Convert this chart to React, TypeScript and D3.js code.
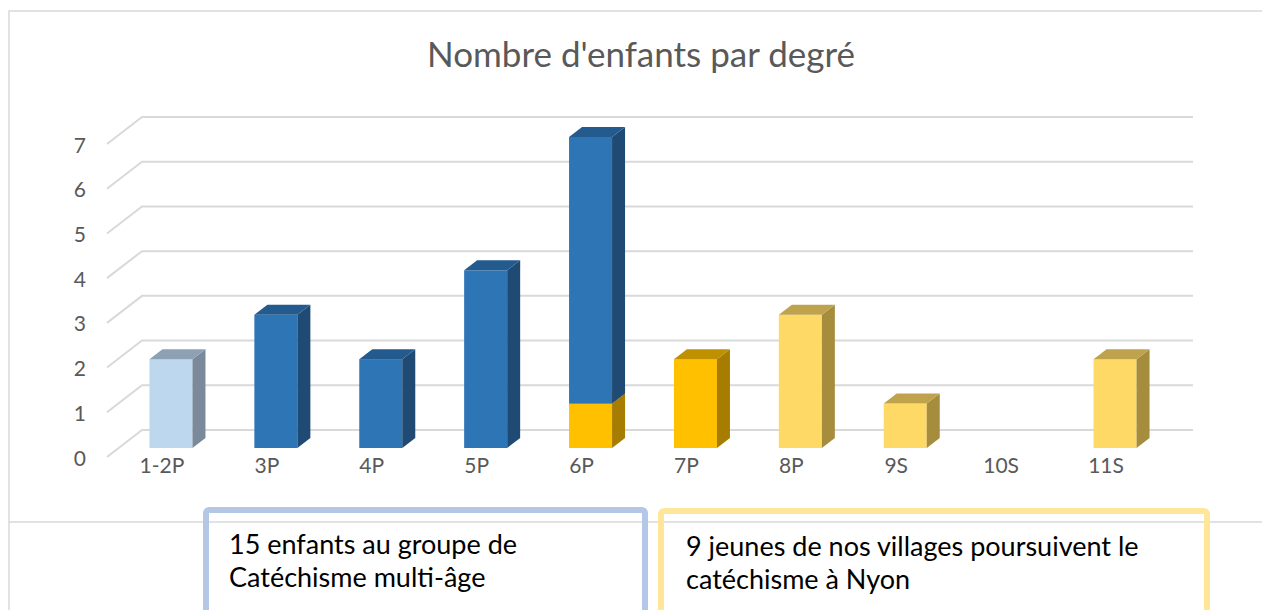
import { useMemo } from 'react';
import * as d3 from 'd3';

const categories = ['1-2P', '3P', '4P', '5P', '6P', '7P', '8P', '9S', '10S', '11S'];
// stacked from the bottom up
const seriesKeys = ['gold', 'lightBlue', 'blue', 'yellow'];
const goldValues = [0, 0, 0, 0, 1, 2, 0, 0, 0, 0];
const lightBlueValues = [2, 0, 0, 0, 0, 0, 0, 0, 0, 0];
const blueValues = [0, 3, 2, 4, 6, 0, 0, 0, 0, 0];
const yellowValues = [0, 0, 0, 0, 0, 0, 3, 1, 0, 2];
const yTicks = [0, 1, 2, 3, 4, 5, 6, 7];

const title = "Nombre d'enfants par degré";
const noteLeft = ['15 enfants au groupe de', 'Catéchisme multi-âge'];
const noteRight = ['9 jeunes de nos villages poursuivent le', 'catéchisme à Nyon'];

const faces: Record<string, { front: string; side: string; top: string }> = {
  gold: { front: '#FFC000', side: '#A67D00', top: '#BF9000' },
  lightBlue: { front: '#BDD7EE', side: '#7A8A9A', top: '#8EA1B4' },
  blue: { front: '#2E75B6', side: '#1F4A73', top: '#245B8E' },
  yellow: { front: '#FFD966', side: '#A68D3E', top: '#BFA34C' },
};

const W = 1262;
const H = 610;
const FONT = 'Lato, "Open Sans", sans-serif';
// perspective offsets
const depth = { dx: 13, dy: -10 };
const wallShift = { dx: -35, dy: 27 };

export default function App() {
  const { bars, x, yBar, yWall } = useMemo(() => {
    const table = categories.map((c, i) => ({
      cat: c,
      gold: goldValues[i],
      lightBlue: lightBlueValues[i],
      blue: blueValues[i],
      yellow: yellowValues[i],
    }));
    const stacked = d3.stack<any>().keys(seriesKeys)(table);
    const x = d3.scaleBand().domain(categories).range([118, 1168]).paddingInner(0.59).paddingOuter(0.3);
    const yBar = d3.scaleLinear().domain([0, 7]).range([448, 137]);
    const yWall = d3.scaleLinear().domain([0, 7]).range([430, 117]);
    const bars: { key: string; cat: string; y0: number; y1: number }[] = [];
    stacked.forEach((s) => {
      s.forEach((d) => {
        if (d[1] - d[0] > 0) bars.push({ key: s.key, cat: d.data.cat, y0: d[0], y1: d[1] });
      });
    });
    // draw each column from bottom to top
    bars.sort((a, b) => categories.indexOf(a.cat) - categories.indexOf(b.cat) || a.y0 - b.y0);
    return { bars, x, yBar, yWall };
  }, []);

  const wallLeft = 142;
  const wallRight = 1193;
  const bw = x.bandwidth();

  return (
    <svg width={W} height={H} style={{ position: 'absolute', left: 0, top: 0, background: '#fff' }}>
      {/* chart frame */}
      <path d={`M9,${H} V11 H${W}`} fill="none" stroke="#D9D9D9" strokeWidth={1.5} />
      <line x1={9} x2={W} y1={522} y2={522} stroke="#D9D9D9" strokeWidth={1.5} />

      <text x={641} y={67} textAnchor="middle" fontFamily={FONT} fontSize={35} fill="#595959">
        {title}
      </text>

      {/* gridlines: floor diagonal + back wall */}
      {yTicks.map((t) => (
        <g key={t}>
          <path
            d={`M${wallLeft + wallShift.dx},${yWall(t) + wallShift.dy} L${wallLeft},${yWall(t)} H${wallRight}`}
            fill="none"
            stroke="#D9D9D9"
            strokeWidth={2}
          />
          <text
            x={86}
            y={yWall(t) + wallShift.dy}
            textAnchor="end"
            dominantBaseline="central"
            fontFamily={FONT}
            fontSize={21}
            fill="#595959"
          >
            {t}
          </text>
        </g>
      ))}

      {bars.map((b, i) => {
        const x0 = x(b.cat)!;
        const x1 = x0 + bw;
        const yb = yBar(b.y0);
        const yt = yBar(b.y1);
        const f = faces[b.key];
        return (
          <g key={i}>
            <rect x={x0} y={yt} width={bw} height={yb - yt} fill={f.front} />
            <polygon
              points={`${x1},${yb} ${x1 + depth.dx},${yb + depth.dy} ${x1 + depth.dx},${yt + depth.dy} ${x1},${yt}`}
              fill={f.side}
            />
            <polygon
              points={`${x0},${yt} ${x0 + depth.dx},${yt + depth.dy} ${x1 + depth.dx},${yt + depth.dy} ${x1},${yt}`}
              fill={f.top}
            />
          </g>
        );
      })}

      {categories.map((c) => (
        <text
          key={c}
          x={x(c)! + bw / 2 - 9}
          y={464}
          textAnchor="middle"
          dominantBaseline="central"
          fontFamily={FONT}
          fontSize={21}
          fill="#595959"
        >
          {c}
        </text>
      ))}

      {/* annotation boxes */}
      <rect x={206} y={510} width={439} height={130} rx={3} fill="none" stroke="#B4C7E7" strokeWidth={6} />
      <rect x={661} y={511} width={546} height={130} rx={3} fill="none" stroke="#FFE699" strokeWidth={6} />
      {noteLeft.map((s, i) => (
        <text key={s} x={229} y={554 + i * 33} fontFamily={FONT} fontSize={27} fill="#000">
          {s}
        </text>
      ))}
      {noteRight.map((s, i) => (
        <text key={s} x={686} y={556 + i * 33} fontFamily={FONT} fontSize={27} fill="#000">
          {s}
        </text>
      ))}
    </svg>
  );
}
